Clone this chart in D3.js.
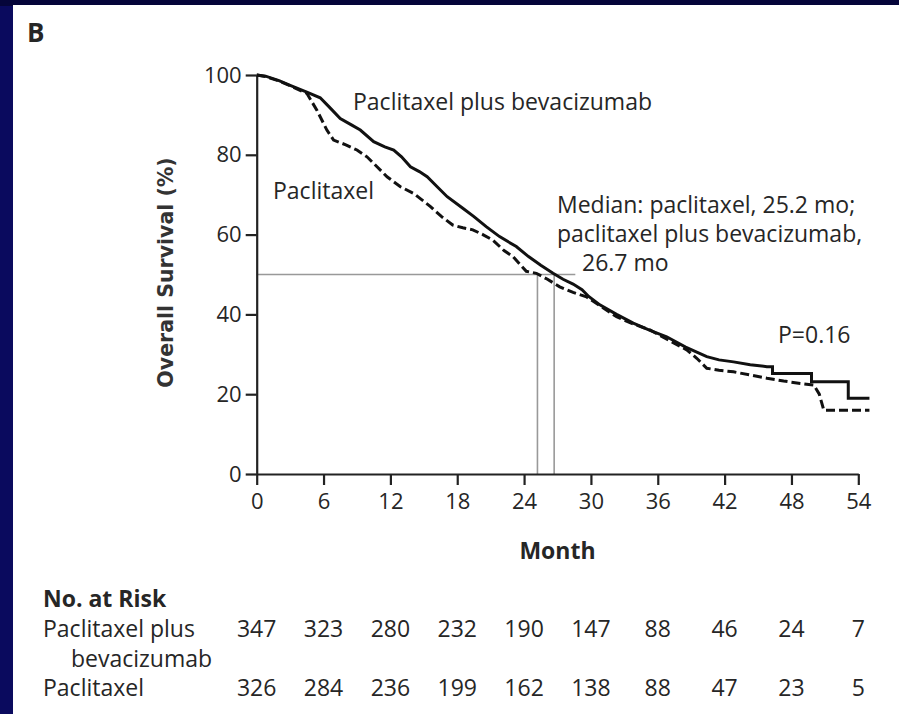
<!DOCTYPE html>
<html>
<head>
<meta charset="utf-8">
<script src="https://cdn.jsdelivr.net/npm/d3@7"></script>
<style>
  body { margin: 0; background: #0a0a5e; }
  svg { display: block; }
  text { font-family: "Open Sans", sans-serif; fill: #262626; }
</style>
</head>
<body>
<svg id="plot"></svg>
<script>
// Data
const months = [0, 6, 12, 18, 24, 30, 36, 42, 48, 54];
const survivalTicks = [0, 20, 40, 60, 80, 100];

// Paclitaxel plus bevacizumab (solid) [month, % surviving]
const bevCurve = [
    [0, 100], [0.8, 99.7], [2, 98.6], [3, 97.4], [4.5, 95.7], [5.7, 94.3], [6.5, 92],
    [7.5, 89.1], [8.5, 87.5], [9.3, 86.2], [10.5, 83.3], [11.5, 82], [12.3, 81.2],
    [13, 79.5], [13.8, 77], [14.6, 75.8], [15.3, 74.5], [16.2, 72], [17.1, 69.5],
    [18.5, 66.6], [19.5, 64.5], [20.6, 62], [21.8, 59.5], [23.3, 57], [24.4, 54.5],
    [25.5, 52.3], [26.6, 50.3], [27.5, 48.8], [28.4, 47.6], [29.2, 46.2], [29.8, 44.5],
    [30.8, 42.4], [32.3, 40], [33.8, 37.8], [35.3, 36], [36.8, 34.4], [38.5, 31.8],
    [40.4, 29.4], [41.5, 28.6], [42.8, 28.1], [44.3, 27.4], [45.8, 26.9], [46.3, 26.9],
    [46.3, 25.2], [49.8, 25.2], [49.8, 23.1], [53.1, 23.1], [53.1, 19], [55, 19]
];

// Paclitaxel (dashed)
const pacCurve = [
    [0, 100], [0.8, 99.6], [2, 98.5], [3, 97.3], [4.5, 95.4], [5.4, 91.2], [6.3, 86.2],
    [6.9, 83.7], [8, 82.5], [9, 81.2], [9.9, 79.5], [10.8, 77], [11.7, 74.5], [12.9, 72],
    [14.1, 70.3], [15.6, 67], [16.6, 64.5], [17.6, 62.4], [18.5, 61.7], [19.4, 61.2],
    [20.3, 60], [21.2, 58.6], [22.2, 56], [23, 54.5], [24.2, 50.8], [25.1, 50.3],
    [26.1, 48.8], [27.2, 46.9], [28.4, 45.5], [29.6, 44.4], [31, 41.8], [32.3, 39.4],
    [33.8, 37.6], [35.3, 36.1], [37, 33.5], [38.6, 31.1], [39.5, 29], [40.4, 26.5],
    [41.5, 26], [42.8, 25.6], [44.3, 24.8], [45.8, 24], [47.3, 23.3], [48.8, 22.7],
    [50, 22.3], [50.5, 20], [50.9, 16], [55, 16]
];

const medianPac = 25.2;
const medianBev = 26.7;

const riskLabels = ['Paclitaxel plus', 'Paclitaxel'];
const riskBev = [347, 323, 280, 232, 190, 147, 88, 46, 24, 7];
const riskPac = [326, 284, 236, 199, 162, 138, 88, 47, 23, 5];

let width = 899;
let height = 714;

let svg = d3.select('#plot')
    .attr('width', width)
    .attr('height', height);

// navy frame and white panel
svg.append('rect').attr('width', width).attr('height', height).attr('fill', '#0a0a5e');
svg.append('rect').attr('width', width).attr('height', 6).attr('fill', '#05053a');
svg.append('rect').attr('x', 13).attr('y', 5).attr('width', width - 13).attr('height', height - 5).attr('fill', '#fff');

let xScale = d3.scaleLinear().domain([0, 54]).range([256.7, 858.3]);
let yScale = d3.scaleLinear().domain([0, 100]).range([474, 75]);

// median guide lines
let medians = svg.append('g')
    .attr('stroke', '#999')
    .attr('stroke-width', 1.6)
    .attr('fill', 'none');
medians.append('line')
    .attr('x1', xScale(0)).attr('x2', xScale(28.6))
    .attr('y1', yScale(50)).attr('y2', yScale(50));
[medianPac, medianBev].forEach(function(m) {
    medians.append('line')
        .attr('x1', xScale(m)).attr('x2', xScale(m))
        .attr('y1', yScale(50)).attr('y2', yScale(0));
});

// axes
let xAxis = svg.append('g')
    .attr('transform', `translate(0, ${yScale(0)})`)
    .call(d3.axisBottom(xScale).tickValues(months).tickSizeInner(11).tickSizeOuter(0).tickPadding(8));
let yAxis = svg.append('g')
    .attr('transform', `translate(${xScale(0)}, 0)`)
    .call(d3.axisLeft(yScale).tickValues(survivalTicks).tickSizeInner(11).tickSizeOuter(0).tickPadding(4));
[xAxis, yAxis].forEach(function(ax) {
    ax.select('.domain').attr('stroke', '#222').attr('stroke-width', 2.2);
    ax.selectAll('.tick line').attr('stroke', '#222').attr('stroke-width', 2.2);
    ax.selectAll('.tick text')
        .attr('font-size', 22)
        .attr('fill', '#262626');
});

// survival curves
let line = d3.line()
    .x(d => xScale(d[0]))
    .y(d => yScale(d[1]));

svg.append('path')
    .datum(bevCurve)
    .attr('d', line)
    .attr('fill', 'none')
    .attr('stroke', '#111')
    .attr('stroke-width', 3);

svg.append('path')
    .datum(pacCurve)
    .attr('d', line)
    .attr('fill', 'none')
    .attr('stroke', '#111')
    .attr('stroke-width', 3)
    .attr('stroke-dasharray', '9,4');

// labels
svg.append('text').attr('x', 27).attr('y', 42)
    .attr('font-size', 26).attr('font-weight', 700).text('B');

svg.append('text').attr('x', 353).attr('y', 110)
    .attr('font-size', 23).text('Paclitaxel plus bevacizumab');
svg.append('text').attr('x', 273).attr('y', 199)
    .attr('font-size', 23).text('Paclitaxel');

let medianText = ['Median: paclitaxel, 25.2 mo;', 'paclitaxel plus bevacizumab,', '26.7 mo'];
svg.selectAll('.median-label')
    .data(medianText)
    .enter()
    .append('text')
    .attr('class', 'median-label')
    .attr('x', (d, i) => i === 2 ? 582 : 557)
    .attr('y', (d, i) => 213 + i * 29)
    .attr('font-size', 23)
    .text(d => d);

svg.append('text').attr('x', 778).attr('y', 343)
    .attr('font-size', 23).text('P=0.16');

svg.append('text')
    .attr('transform', 'rotate(-90)')
    .attr('x', -(yScale(50)) + 2)
    .attr('y', 173)
    .attr('text-anchor', 'middle')
    .style('font-family', '"DejaVu Sans", sans-serif')
    .attr('font-size', 20.5)
    .attr('font-weight', 700)
    .style('fill', '#333')
    .text('Overall Survival (%)');

svg.append('text')
    .attr('x', xScale(27))
    .attr('y', 559)
    .attr('text-anchor', 'middle')
    .attr('font-size', 23)
    .attr('font-weight', 700)
    .text('Month');

// number at risk table
svg.append('text').attr('x', 43).attr('y', 607)
    .attr('font-size', 23).attr('font-weight', 700).text('No. at Risk');
svg.append('text').attr('x', 43).attr('y', 637).attr('font-size', 23).text(riskLabels[0]);
svg.append('text').attr('x', 71).attr('y', 667).attr('font-size', 23).text('bevacizumab');
svg.append('text').attr('x', 43).attr('y', 696).attr('font-size', 23).text(riskLabels[1]);

[[riskBev, 637], [riskPac, 696]].forEach(function(row) {
    svg.append('g')
        .selectAll('text')
        .data(row[0])
        .enter()
        .append('text')
        .attr('x', (d, i) => xScale(months[i]))
        .attr('y', row[1])
        .attr('text-anchor', 'middle')
        .attr('font-size', 23)
        .text(d => d);
});
</script>
</body>
</html>
